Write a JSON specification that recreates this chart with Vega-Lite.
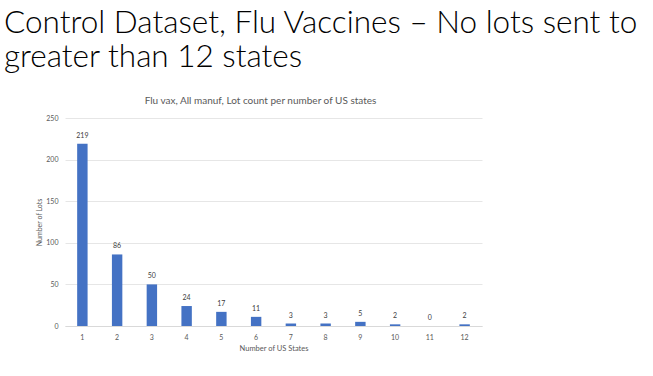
{
  "$schema": "https://vega.github.io/schema/vega-lite/v6.json",
  "background": "white",
  "padding": {"left": 4, "top": 7, "right": 5, "bottom": 5},
  "config": {"view": {"stroke": null}, "font": "Lato"},
  "title": {
    "text": ["Control Dataset, Flu Vaccines – No lots sent to", "greater than 12 states"],
    "anchor": "start",
    "frame": "group",
    "font": "Lato",
    "fontSize": 31.5,
    "fontWeight": 300,
    "color": "#000000",
    "lineHeight": 34,
    "offset": 23,
    "dx": -61
  },
  "vconcat": [
    {
      "width": 417,
      "height": 208,
      "title": {
        "text": "Flu vax, All manuf, Lot count per number of US states",
        "font": "Lato",
        "fontSize": 10,
        "fontWeight": "normal",
        "color": "#595959",
        "offset": 8,
        "dx": -13
      },
      "data": {
        "values": [
          {"states": 1, "lots": 219},
          {"states": 2, "lots": 86},
          {"states": 3, "lots": 50},
          {"states": 4, "lots": 24},
          {"states": 5, "lots": 17},
          {"states": 6, "lots": 11},
          {"states": 7, "lots": 3},
          {"states": 8, "lots": 3},
          {"states": 9, "lots": 5},
          {"states": 10, "lots": 2},
          {"states": 11, "lots": 0},
          {"states": 12, "lots": 2}
        ]
      },
      "encoding": {
        "x": {
          "field": "states",
          "type": "ordinal",
          "scale": {"paddingInner": 0.7, "paddingOuter": 0.35},
          "axis": {
            "title": "Number of US States",
            "titleFont": "Lato",
            "titleFontSize": 7.5,
            "titleFontWeight": "normal",
            "titleColor": "#595959",
            "titlePadding": 4,
            "labelAngle": 0,
            "labelFont": "Lato",
            "labelFontSize": 7,
            "labelColor": "#595959",
            "labelPadding": 7,
            "ticks": false,
            "domainColor": "#d9d9d9",
            "domainWidth": 1
          }
        },
        "y": {
          "field": "lots",
          "type": "quantitative",
          "scale": {"domain": [0, 250]},
          "axis": {
            "title": "Number of Lots",
            "titleFont": "Lato",
            "titleFontSize": 7,
            "titleFontWeight": "normal",
            "titleColor": "#595959",
            "titlePadding": 3,
            "values": [0, 50, 100, 150, 200, 250],
            "labelFont": "Lato",
            "labelFontSize": 7,
            "labelColor": "#595959",
            "labelPadding": 7,
            "ticks": false,
            "domain": false,
            "gridColor": "#e6e6e6",
            "gridWidth": 1
          }
        }
      },
      "layer": [
        {"mark": {"type": "bar", "color": "#4472C4"}},
        {
          "mark": {"type": "text", "dy": -8, "fontSize": 7, "font": "Lato", "color": "#404040"},
          "encoding": {"text": {"field": "lots", "type": "quantitative"}}
        }
      ]
    }
  ]
}
